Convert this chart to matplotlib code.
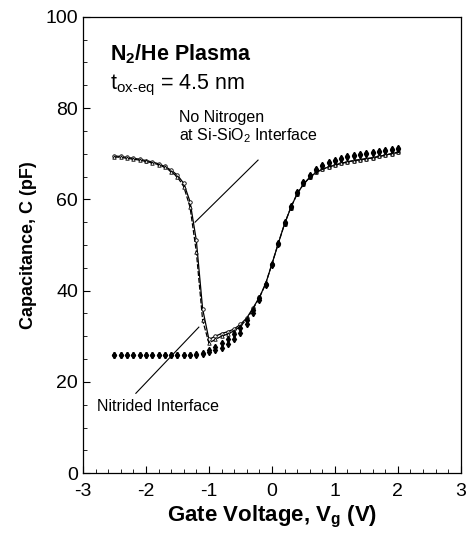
import matplotlib
matplotlib.use("Agg")
import matplotlib.pyplot as plt
import matplotlib.ticker as ticker

plt.rcParams['font.family'] = ['Liberation Sans', 'DejaVu Sans']
plt.rcParams['mathtext.fontset'] = 'custom'
plt.rcParams['mathtext.rm'] = 'Liberation Sans'
plt.rcParams['mathtext.bf'] = 'Liberation Sans:bold'
plt.rcParams['axes.unicode_minus'] = False

# gate voltage (V)
volts = [-2.5, -2.4, -2.3, -2.2, -2.1, -2.0, -1.9, -1.8, -1.7, -1.6,
         -1.5, -1.4, -1.3, -1.2, -1.1, -1.0, -0.9, -0.8, -0.7, -0.6,
         -0.5, -0.4, -0.3, -0.2, -0.1, 0.0, 0.1, 0.2, 0.3, 0.4,
         0.5, 0.6, 0.7, 0.8, 0.9, 1.0, 1.1, 1.2, 1.3, 1.4,
         1.5, 1.6, 1.7, 1.8, 1.9, 2.0]

# no nitrogen at Si-SiO2 interface (two samples)
no_n_a = [69.5, 69.4, 69.2, 69.0, 68.8, 68.5, 68.2, 67.8, 67.2, 66.4,
          65.3, 63.5, 59.5, 51.0, 36.0, 29.3, 30.0, 30.6, 31.0, 31.6,
          32.6, 34.0, 36.2, 38.5, 41.5, 45.8, 50.3, 54.6, 58.2, 61.2,
          63.3, 64.8, 65.9, 66.6, 67.1, 67.5, 67.9, 68.2, 68.5, 68.7,
          68.9, 69.1, 69.4, 69.7, 70.0, 70.3]
no_n_b = [69.3, 69.2, 69.0, 68.8, 68.6, 68.3, 68.0, 67.6, 67.0, 66.1,
          64.9, 62.8, 58.3, 48.5, 33.5, 28.5, 29.3, 30.0, 30.5, 31.2,
          32.2, 33.7, 36.0, 38.4, 41.5, 45.8, 50.3, 54.6, 58.2, 61.2,
          63.3, 64.8, 65.9, 66.6, 67.1, 67.5, 67.9, 68.2, 68.5, 68.7,
          68.9, 69.1, 69.4, 69.7, 70.0, 70.3]

# nitrided interface (two samples)
nit_a = [26.0, 26.0, 26.0, 26.0, 26.0, 26.0, 26.0, 26.0, 26.0, 26.0,
         26.0, 26.0, 26.0, 26.1, 26.4, 27.0, 27.6, 28.5, 29.5, 30.6,
         31.9, 33.6, 35.8, 38.4, 41.5, 45.8, 50.5, 55.0, 58.6, 61.6,
         63.8, 65.4, 66.6, 67.5, 68.1, 68.6, 69.0, 69.4, 69.7, 70.0,
         70.2, 70.4, 70.6, 70.8, 71.0, 71.2]
nit_b = [26.0, 26.0, 26.0, 26.0, 26.0, 26.0, 26.0, 26.0, 26.0, 26.0,
         26.0, 26.0, 26.0, 26.0, 26.2, 26.5, 26.9, 27.5, 28.3, 29.4,
         30.8, 32.6, 35.0, 38.0, 41.3, 45.6, 50.3, 54.8, 58.4, 61.4,
         63.6, 65.2, 66.4, 67.3, 67.9, 68.4, 68.8, 69.2, 69.5, 69.8,
         70.0, 70.2, 70.4, 70.6, 70.8, 71.0]

fig = plt.figure(figsize=(4.66, 5.42), dpi=100)
ax = fig.add_axes([0.178, 0.127, 0.811, 0.842])

ax.plot(volts, no_n_a, '-', color='black', lw=0.9, marker='o', ms=2.5,
        mfc='white', mec='black', mew=0.6)
ax.plot(volts, no_n_b, '--', color='black', lw=0.9, marker='^', ms=2.5,
        mfc='white', mec='black', mew=0.6, dashes=(4, 1.5))
ax.plot(volts, nit_a, 'd', color='black', ms=3.2, ls='none')
ax.plot(volts, nit_b, 'd', color='black', ms=3.2, ls='none')

ax.set_xlim(-3, 3)
ax.set_ylim(0, 100)
ax.xaxis.set_major_locator(ticker.MultipleLocator(1))
ax.xaxis.set_minor_locator(ticker.MultipleLocator(0.2))
ax.yaxis.set_major_locator(ticker.MultipleLocator(20))
ax.yaxis.set_minor_locator(ticker.MultipleLocator(5))
ax.tick_params(which='both', direction='in', labelsize=14, top=False, right=False)
ax.tick_params(which='major', length=5)
ax.tick_params(which='minor', length=3)
ax.tick_params(axis='x', pad=7)
for s in ax.spines.values():
    s.set_linewidth(0.9)

ax.set_xlabel('Gate Voltage, V$_\\mathbf{g}$ (V)', fontsize=16, fontweight='bold', labelpad=3)
ax.set_ylabel('Capacitance, C (pF)', fontsize=13, fontweight='bold', labelpad=6)

ax.text(-2.57, 91.7, 'N$_\\mathbf{2}$/He Plasma', fontsize=15.5, fontweight='bold', va='center')
ax.text(-2.57, 85, 't$_{\\mathrm{ox\\text{-}eq}}$ = 4.5 nm', fontsize=15.5, va='center')

ax.text(-1.47, 75.8, 'No Nitrogen\nat Si-SiO$_2$ Interface', fontsize=11.5, va='center',
        linespacing=1.1)
ax.plot([-0.22, -1.22], [68.6, 55.0], color='black', lw=0.8)

ax.text(-2.78, 14.5, 'Nitrided Interface', fontsize=11.5, va='center')
ax.plot([-2.16, -1.16], [17.5, 32.0], color='black', lw=0.8)

fig.savefig('out.png', dpi=100)
